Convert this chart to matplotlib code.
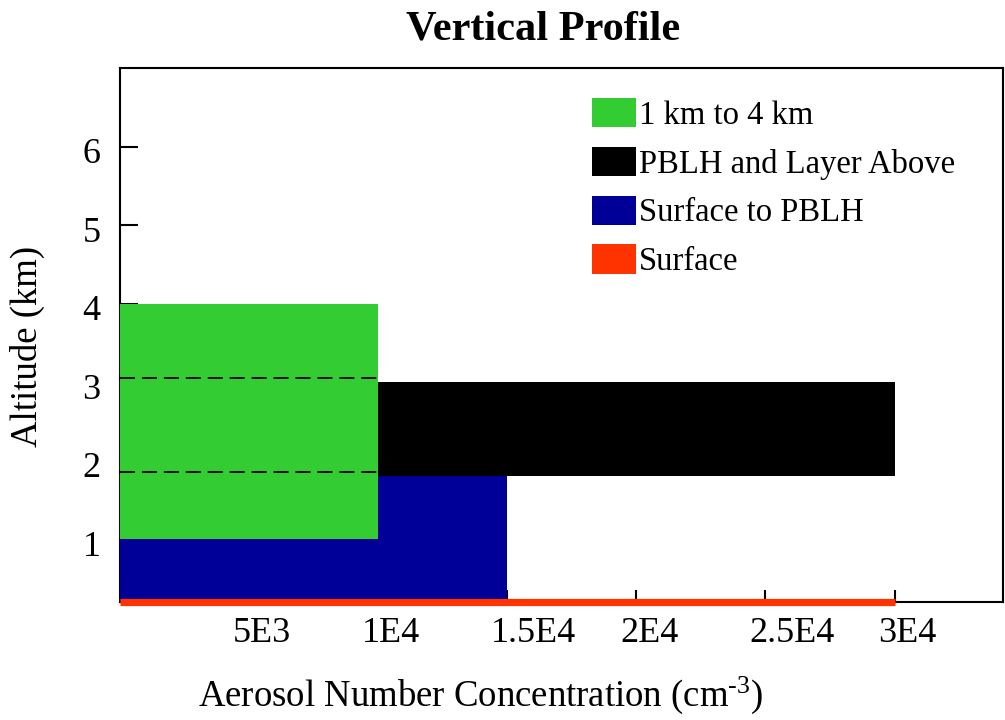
import matplotlib
matplotlib.use("Agg")
import matplotlib.pyplot as plt
from matplotlib.patches import Patch
from matplotlib.transforms import ScaledTranslation

plt.rcParams['font.family'] = ['Liberation Serif', 'DejaVu Serif']
plt.rcParams['mathtext.fontset'] = 'custom'
plt.rcParams['mathtext.rm'] = 'Liberation Serif'
plt.rcParams['mathtext.it'] = 'Liberation Serif:italic'

# ---- data ----
layer_labels = ["1 km to 4 km", "PBLH and Layer Above", "Surface to PBLH", "Surface"]
layer_colors = ["#33cc33", "#000000", "#000099", "#ff3300"]
layer_conc = [10000, 30000, 15000, 30000]      # cm^-3
layer_bottom = [1.0, 1.8, 0.0]                  # km
layer_top = [4.0, 3.0, 1.8]                     # km
surface_alt = 0.2                               # km
dashed_alts = [3.05, 1.85]                      # km
dashed_conc = 10100
xticks = [5000, 10000, 15000, 20000, 25000, 30000]
xtick_labels = ["5E3", "1E4", "1.5E4", "2E4", "2.5E4", "3E4"]
yticks = [1, 2, 3, 4, 5, 6]
xlim = (0, 34200)
ylim = (0.2, 7.0)

fig = plt.figure(figsize=(10.05, 7.2), dpi=100)
ax = fig.add_axes([120/1005, 1-602/720, (1003-120)/1005, (602-68)/720])

# bars: draw blue and black first, green on top
order = [2, 1, 0]
for i in order:
    ax.barh(layer_bottom[i], layer_conc[i], height=layer_top[i]-layer_bottom[i],
            left=0, align='edge', color=layer_colors[i], linewidth=0, zorder=3)
# surface line
ax.plot([0, layer_conc[3]], [surface_alt, surface_alt], color=layer_colors[3],
        lw=5.2, solid_capstyle='butt', clip_on=False, zorder=5)
# dashed lines
for a in dashed_alts:
    ax.plot([0, dashed_conc], [a, a], color='black', lw=1.3,
            ls=(0, (8.3, 3.85)), zorder=4, clip_on=False)

ax.set_xlim(*xlim)
ax.set_ylim(*ylim)
ax.set_xticks(xticks)
ax.set_xticklabels(xtick_labels)
ax.set_yticks(yticks)
for s in ax.spines.values():
    s.set_linewidth(1.5)
    s.set_zorder(2)
ax.tick_params(axis='y', direction='in', length=13, width=1.5, labelsize=26, pad=14)
ax.tick_params(axis='x', direction='in', length=8.5, width=1.5, labelsize=26, pad=11)
off = ScaledTranslation(-16/100, 0, fig.dpi_scale_trans)
for lab in ax.get_xticklabels():
    lab.set_horizontalalignment('left')
    lab.set_transform(lab.get_transform() + off)
offy = ScaledTranslation(0, -4/100, fig.dpi_scale_trans)
for lab in ax.get_yticklabels():
    lab.set_transform(lab.get_transform() + offy)

handles = [Patch(facecolor=c, edgecolor='none') for c in layer_colors]
leg = ax.legend(handles, layer_labels, loc='upper left',
                bbox_to_anchor=((592-120)/883, (602-98)/534),
                frameon=False, fontsize=23.5, handlelength=1.35, handleheight=1.0,
                handletextpad=0.1, labelspacing=0.49, borderpad=0, borderaxespad=0)

fig.text(543/1005, 1-29/720, "Vertical Profile", ha='center', va='center',
         fontsize=30.5, fontweight='bold')
fig.text(480/1005, 1-695/720, r"Aerosol Number Concentration (cm$^{\text{-3}}$)",
         ha='center', va='center', fontsize=26.5)
fig.text(27/1005, 1-346/720, "Altitude (km)", ha='center', va='center',
         rotation=90, fontsize=26.5)

fig.savefig("out.png", dpi=100)
